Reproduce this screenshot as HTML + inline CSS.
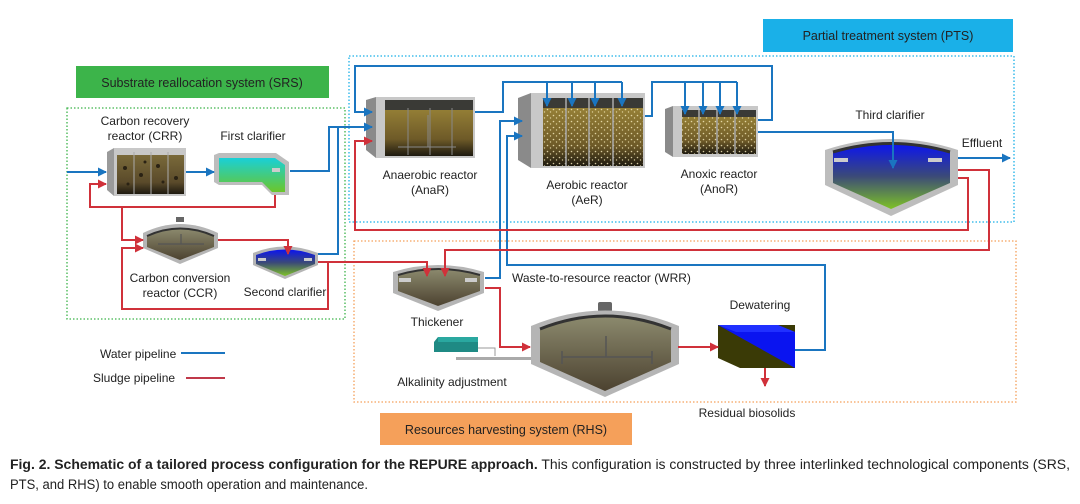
<!DOCTYPE html>
<html><head><meta charset="utf-8"><style>
html,body{margin:0;padding:0;background:#fff;}
svg{display:block;}
text{font-family:"Liberation Sans",Arial,sans-serif;fill:#222;}
</style></head><body>
<svg width="1080" height="504" viewBox="0 0 1080 504" xmlns="http://www.w3.org/2000/svg">
<defs>
<marker id="ab" markerWidth="9" markerHeight="9" refX="8" refY="4.5" orient="auto" markerUnits="userSpaceOnUse"><path d="M0,0 L9,4.5 L0,9 Z" fill="#1a75c0"/></marker>
<marker id="ar" markerWidth="9" markerHeight="9" refX="8" refY="4.5" orient="auto" markerUnits="userSpaceOnUse"><path d="M0,0 L9,4.5 L0,9 Z" fill="#d0313a"/></marker>
<linearGradient id="mud" x1="0" y1="0" x2="0" y2="1"><stop offset="0" stop-color="#7a6a3a"/><stop offset="0.7" stop-color="#5a4a2a"/><stop offset="1" stop-color="#1e1a10"/></linearGradient>
<linearGradient id="ana" x1="0" y1="0" x2="0" y2="1"><stop offset="0" stop-color="#a08a3a"/><stop offset="0.7" stop-color="#6e5a28"/><stop offset="1" stop-color="#1e1a10"/></linearGradient>
<linearGradient id="fc" x1="0" y1="0" x2="0" y2="1"><stop offset="0" stop-color="#19d0d8"/><stop offset="1" stop-color="#6cc62a"/></linearGradient>
<linearGradient id="cl" x1="0" y1="0" x2="0" y2="1"><stop offset="0" stop-color="#0b14f0"/><stop offset="0.5" stop-color="#3b4a78"/><stop offset="1" stop-color="#7ec226"/></linearGradient>
<linearGradient id="tk" x1="0" y1="0" x2="0" y2="1"><stop offset="0" stop-color="#8c8a6e"/><stop offset="1" stop-color="#4c4230"/></linearGradient>
<pattern id="dots" width="6" height="6" patternUnits="userSpaceOnUse"><rect width="6" height="6" fill="none"/><circle cx="1.5" cy="1.5" r="0.8" fill="#f2e6b8"/><circle cx="4.5" cy="4" r="0.7" fill="#e8dca8"/></pattern>
</defs>

<!-- banners -->
<rect x="76" y="66" width="253" height="32" fill="#3cb44a"/>
<text x="202" y="87" font-size="12.5" text-anchor="middle">Substrate reallocation system (SRS)</text>
<rect x="763" y="19" width="250" height="33" fill="#1ab0e8"/>
<text x="888" y="40" font-size="12.5" text-anchor="middle">Partial treatment system (PTS)</text>
<rect x="380" y="413" width="252" height="32" fill="#f5a05a"/>
<text x="506" y="434" font-size="12.5" text-anchor="middle">Resources harvesting system (RHS)</text>

<!-- dotted boxes -->
<rect x="67" y="108" width="278" height="211" fill="none" stroke="#3cb44a" stroke-width="1.3" stroke-dasharray="1.5 2"/>
<rect x="349" y="56" width="665" height="166" fill="none" stroke="#1ab0e8" stroke-width="1.3" stroke-dasharray="1.5 2"/>
<rect x="354" y="241" width="662" height="161" fill="none" stroke="#f5a05a" stroke-width="1.3" stroke-dasharray="1.5 2"/>

<!-- CRR -->
<polygon points="107,152 114,148 186,148 186,196 114,196 107,190" fill="#9a9a9a"/>
<rect x="114" y="148" width="72" height="48" fill="#c8c8c8"/>
<rect x="117" y="155" width="67" height="39" fill="url(#mud)"/>
<g stroke="#aaa" stroke-width="1"><line x1="134" y1="152" x2="134" y2="194"/><line x1="151" y1="152" x2="151" y2="194"/><line x1="168" y1="152" x2="168" y2="194"/></g>
<g fill="#2a2214"><circle cx="125" cy="168" r="2"/><circle cx="141" cy="175" r="2"/><circle cx="158" cy="166" r="2"/><circle cx="176" cy="178" r="2"/><circle cx="128" cy="184" r="1.5"/><circle cx="163" cy="182" r="1.5"/><circle cx="145" cy="162" r="1.5"/></g>
<!-- First clarifier -->
<polygon points="214,155 219,153 276,153 289,162 289,195 272,195 262,185 219,185 214,182" fill="#bdbdbd"/>
<polygon points="219,158 275,158 285,165 285,192 272,192 262,182 219,182" fill="url(#fc)"/>
<rect x="272" y="168" width="8" height="4" fill="#ccc"/>
<!-- CCR -->
<rect x="176" y="217" width="8" height="5" fill="#666"/>
<path d="M143,233 Q180,215 218,233 V248 L180,264 L143,248 Z" fill="#b5b5b5"/>
<path d="M147,236 Q180,221 214,236 V247 L180,260 L147,247 Z" fill="url(#tk)"/>
<path d="M147,236 Q180,221 214,236" fill="none" stroke="#333" stroke-width="2"/>
<g stroke="#555" stroke-width="1.2"><line x1="158" y1="244" x2="204" y2="244"/><line x1="181" y1="234" x2="181" y2="244"/></g>
<!-- Second clarifier -->
<path d="M253,253 Q285,240 318,253 V265 L285,279 L253,265 Z" fill="#b5b5b5"/>
<path d="M256,255 Q285,244 315,255 V264 L285,276 L256,264 Z" fill="url(#cl)"/>
<rect x="258" y="258" width="8" height="3" fill="#ccc"/><rect x="304" y="258" width="8" height="3" fill="#ccc"/>

<!-- AnaR -->
<polygon points="366,100 376,97 376,158 366,150" fill="#8a8a8a"/>
<rect x="376" y="97" width="99" height="61" fill="#c8c8c8"/>
<rect x="385" y="100" width="88" height="56" fill="url(#ana)"/>
<rect x="385" y="100" width="88" height="10" fill="#3a3a36"/>
<g stroke="#888" stroke-width="1"><line x1="408" y1="108" x2="408" y2="155"/><line x1="430" y1="108" x2="430" y2="155"/><line x1="452" y1="108" x2="452" y2="155"/><line x1="398" y1="147" x2="456" y2="147"/><line x1="428" y1="115" x2="428" y2="147"/></g>
<!-- AeR -->
<polygon points="518,98 531,93 531,168 518,160" fill="#8a8a8a"/>
<rect x="531" y="93" width="114" height="75" fill="#c8c8c8"/>
<rect x="543" y="98" width="100" height="68" fill="url(#ana)"/>
<rect x="543" y="98" width="100" height="68" fill="url(#dots)" opacity="0.85"/>
<rect x="543" y="98" width="100" height="10" fill="#3a3a36"/>
<g stroke="#aaa" stroke-width="1.5"><line x1="566" y1="98" x2="566" y2="166"/><line x1="589" y1="98" x2="589" y2="166"/><line x1="613" y1="98" x2="613" y2="166"/></g>
<!-- AnoR -->
<polygon points="665,109 673,106 673,157 665,152" fill="#8a8a8a"/>
<rect x="673" y="106" width="85" height="51" fill="#c8c8c8"/>
<rect x="682" y="110" width="74" height="44" fill="url(#ana)"/>
<rect x="682" y="110" width="74" height="44" fill="url(#dots)" opacity="0.85"/>
<rect x="682" y="110" width="74" height="7" fill="#3a3a36"/>
<g stroke="#aaa" stroke-width="1.5"><line x1="699" y1="110" x2="699" y2="154"/><line x1="717" y1="110" x2="717" y2="154"/><line x1="735" y1="110" x2="735" y2="154"/></g>
<!-- Third clarifier -->
<path d="M825,150 Q891,128 958,150 V185 L891,216 L825,185 Z" fill="#bdbdbd"/>
<path d="M833,152 Q891,135 950,152 V183 L891,209 L833,183 Z" fill="url(#cl)"/>
<path d="M833,152 Q891,135 950,152" fill="none" stroke="#333" stroke-width="3"/>
<rect x="834" y="158" width="14" height="4" fill="#ccc"/><rect x="928" y="158" width="14" height="4" fill="#ccc"/>

<!-- Thickener -->
<path d="M393,272 Q438,258 484,272 V293 L438,311 L393,293 Z" fill="#b5b5b5"/>
<path d="M398,275 Q438,263 480,275 V291 L438,306 L398,291 Z" fill="url(#tk)"/>
<path d="M398,275 Q438,263 480,275" fill="none" stroke="#333" stroke-width="2"/>
<rect x="399" y="278" width="12" height="4" fill="#ccc"/><rect x="465" y="278" width="12" height="4" fill="#ccc"/>
<!-- WRR -->
<rect x="598" y="302" width="14" height="10" rx="2" fill="#666"/>
<path d="M531,326 Q605,295 679,326 V364 L605,397 L531,364 Z" fill="#b5b5b5"/>
<path d="M540,329 Q605,303 671,329 V362 L605,391 L540,362 Z" fill="url(#tk)"/>
<path d="M540,329 Q605,303 671,329" fill="none" stroke="#333" stroke-width="3"/>
<g stroke="#555" stroke-width="1.5"><line x1="562" y1="357" x2="652" y2="357"/><line x1="606" y1="336" x2="606" y2="357"/><line x1="562" y1="351" x2="562" y2="364"/><line x1="652" y1="351" x2="652" y2="364"/></g>
<!-- Alkalinity -->
<polygon points="434,342 438,337 478,337 478,352 434,352" fill="#1f8a84"/>
<rect x="438" y="337" width="40" height="5" fill="#2aa8a0"/>
<path d="M478,348 H495 V356" stroke="#999" fill="none"/>
<rect x="456" y="357" width="75" height="3" fill="#aaa"/>
<!-- Dewatering -->
<polygon points="718,325 795,325 795,368 740,368 718,358" fill="#3a3a06"/>
<polygon points="718,325 778,325 795,332 795,368" fill="#0a14f0"/>
<polygon points="718,325 778,325 795,332 736,332" fill="#2030ff"/>

<!-- blue pipes -->
<g fill="none" stroke="#1a75c0" stroke-width="2">
<path d="M67,172 H106" marker-end="url(#ab)"/>
<path d="M186,172 H214" marker-end="url(#ab)"/>
<path d="M290,171 H329 V127 H372" marker-end="url(#ab)"/>
<path d="M318,254 H338 V127"/>
<path d="M758,120 H772 V66 H355 V112 H372" marker-end="url(#ab)"/>
<path d="M475,112 H503 V82 H622"/>
<path d="M547,82 V106" marker-end="url(#ab)"/><path d="M572,82 V106" marker-end="url(#ab)"/><path d="M595,82 V106" marker-end="url(#ab)"/><path d="M622,82 V106" marker-end="url(#ab)"/>
<path d="M645,116 H652 V82 H737"/>
<path d="M685,82 V114" marker-end="url(#ab)"/><path d="M703,82 V114" marker-end="url(#ab)"/><path d="M720,82 V114" marker-end="url(#ab)"/><path d="M737,82 V114" marker-end="url(#ab)"/>
<path d="M758,132 H893 V168" marker-end="url(#ab)"/>
<path d="M958,158 H1010" marker-end="url(#ab)"/>
<path d="M485,278 H500 V121 H522" marker-end="url(#ab)"/>
<path d="M795,350 H825 V265 H507 V136 H522" marker-end="url(#ab)"/>
</g>
<!-- red pipes -->
<g fill="none" stroke="#d0313a" stroke-width="2">
<path d="M275,195 V207 H90 V184 H106" marker-end="url(#ar)"/>
<path d="M122,207 V240 H143" marker-end="url(#ar)"/>
<path d="M218,240 H288 V254" marker-end="url(#ar)"/>
<path d="M318,262 H328 V309 H122 V248 H143" marker-end="url(#ar)"/>
<path d="M328,262 H427 V276" marker-end="url(#ar)"/>
<path d="M958,170 H989 V250 H445 V276" marker-end="url(#ar)"/>
<path d="M958,178 H968 V230 H355 V141 H372" marker-end="url(#ar)"/>
<path d="M485,288 H500 V347 H530" marker-end="url(#ar)"/>
<path d="M678,347 H718" marker-end="url(#ar)"/>
<path d="M765,368 V386" marker-end="url(#ar)"/>
</g>

<!-- labels -->
<g font-size="12">
<text x="145" y="125" text-anchor="middle">Carbon recovery</text>
<text x="145" y="140" text-anchor="middle">reactor (CRR)</text>
<text x="253" y="140" text-anchor="middle">First clarifier</text>
<text x="180" y="282" text-anchor="middle">Carbon conversion</text>
<text x="180" y="297" text-anchor="middle">reactor (CCR)</text>
<text x="285" y="296" text-anchor="middle">Second clarifier</text>
<text x="430" y="179" text-anchor="middle">Anaerobic reactor</text>
<text x="430" y="194" text-anchor="middle">(AnaR)</text>
<text x="587" y="189" text-anchor="middle">Aerobic reactor</text>
<text x="587" y="204" text-anchor="middle">(AeR)</text>
<text x="719" y="178" text-anchor="middle">Anoxic reactor</text>
<text x="719" y="193" text-anchor="middle">(AnoR)</text>
<text x="890" y="119" text-anchor="middle">Third clarifier</text>
<text x="982" y="147" text-anchor="middle">Effluent</text>
<text x="512" y="282">Waste-to-resource reactor (WRR)</text>
<text x="437" y="326" text-anchor="middle">Thickener</text>
<text x="452" y="386" text-anchor="middle">Alkalinity adjustment</text>
<text x="760" y="309" text-anchor="middle">Dewatering</text>
<text x="747" y="417" text-anchor="middle">Residual biosolids</text>
<text x="100" y="358">Water pipeline</text>
<text x="93" y="382">Sludge pipeline</text>
</g>
<line x1="181" y1="353" x2="225" y2="353" stroke="#1a75c0" stroke-width="2"/>
<line x1="186" y1="378" x2="225" y2="378" stroke="#c0394a" stroke-width="2"/>

<!-- caption -->
<text x="10" y="469" font-size="13.5" textLength="1060" lengthAdjust="spacingAndGlyphs"><tspan font-weight="bold">Fig. 2. Schematic of a tailored process configuration for the REPURE approach.</tspan> This configuration is constructed by three interlinked technological components (SRS,</text>
<text x="10" y="489" font-size="13.5" textLength="358" lengthAdjust="spacingAndGlyphs">PTS, and RHS) to enable smooth operation and maintenance.</text>
</svg>
</body></html>
